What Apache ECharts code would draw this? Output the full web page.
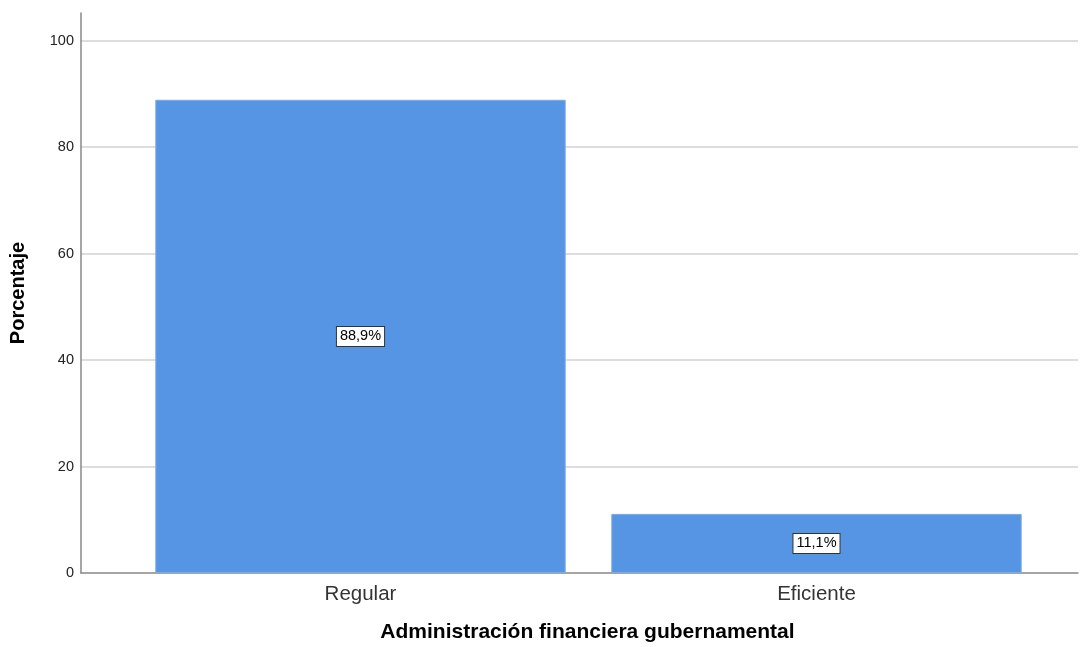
<!DOCTYPE html>
<html><head><meta charset="utf-8">
<script src="https://cdn.jsdelivr.net/npm/echarts@6/dist/echarts.min.js"></script>
<style>html,body{margin:0;padding:0;background:#fff}#c{width:1083px;height:647px}</style>
</head><body><div id="c"></div>
<script>
var categories = ['Regular', 'Eficiente'];
var values = [88.9, 11.1];
var labels = ['88,9%', '11,1%'];
var yTicks = [0, 20, 40, 60, 80, 100];

var chart = echarts.init(document.getElementById('c'));
var font = '"Liberation Sans", Arial, sans-serif';
var yMin = 0, yMax = 105.2;
chart.setOption({
  animation: false,
  backgroundColor: '#fff',
  grid: [
    {left: 132.5, right: 38.5, top: 13, bottom: 74, containLabel: false, outerBoundsMode: 'none'},
    {left: 81, right: 5, top: 13, bottom: 74, containLabel: false, outerBoundsMode: 'none'}
  ],
  xAxis: [
    {type: 'category', gridIndex: 0, data: categories,
     axisLine: {show: false}, axisTick: {show: false},
     axisLabel: {color: '#333', fontSize: 20.5, fontFamily: font, margin: 11}},
    {type: 'value', gridIndex: 1, min: 0, max: 1,
     axisLine: {show: true, onZero: false, lineStyle: {color: '#888', width: 1.5}},
     axisTick: {show: false}, axisLabel: {show: false}, splitLine: {show: false},
     name: 'Administración financiera gubernamental', nameLocation: 'middle', nameGap: 49,
     nameTextStyle: {color: '#000', fontSize: 21, fontWeight: 'bold', fontFamily: font,
       padding: [0, 0, 0, 16]}}
  ],
  yAxis: [
    {type: 'value', gridIndex: 0, min: yMin, max: yMax, interval: 20, show: false},
    {type: 'value', gridIndex: 1, min: yMin, max: yMax, interval: 20,
     axisLine: {show: true, lineStyle: {color: '#888', width: 1.5}},
     axisTick: {show: false},
     axisLabel: {color: '#222', fontSize: 14.5, fontFamily: font, margin: 7,
       formatter: function (v) { return yTicks.indexOf(v) >= 0 ? String(v) : ''; }},
     splitLine: {show: true, showMinLine: false, showMaxLine: false, lineStyle: {color: '#d2d2d2', width: 1.5}},
     name: 'Porcentaje', nameLocation: 'middle', nameGap: 53,
     nameTextStyle: {color: '#000', fontSize: 20, fontWeight: 'bold', fontFamily: font}}
  ],
  series: [{
    type: 'bar', xAxisIndex: 0, yAxisIndex: 0,
    data: values, barCategoryGap: '10%',
    itemStyle: {color: '#5595e4', borderColor: '#7aaaea', borderWidth: 1},
    label: {show: true, position: 'inside',
      formatter: function (p) { return labels[p.dataIndex]; },
      color: '#000', fontSize: 14.5, fontFamily: font,
      backgroundColor: '#fff', borderColor: '#333', borderWidth: 1,
      padding: [3, 3, 1, 3]}
  }]
});
</script></body></html>
